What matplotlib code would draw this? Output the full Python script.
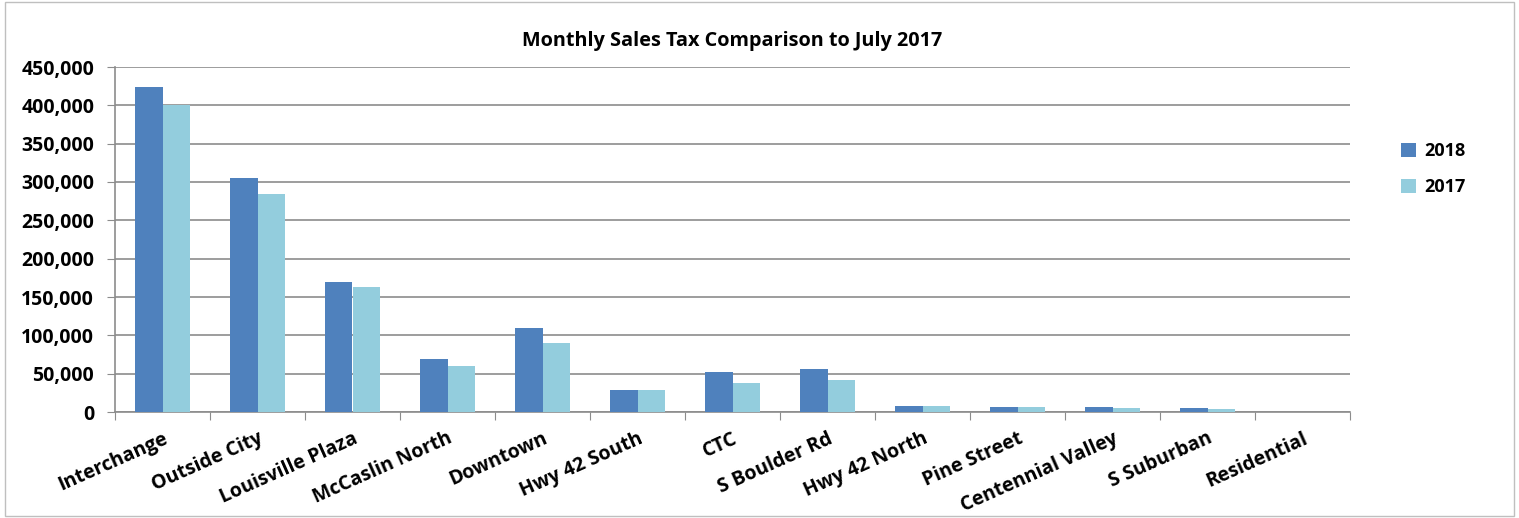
import numpy as np
from matplotlib import pyplot as plt
from matplotlib.ticker import FuncFormatter, FixedLocator

plt.rcParams['font.family'] = ['Open Sans', 'DejaVu Sans']

areas = ["Interchange", "Outside City", "Louisville Plaza", "McCaslin North", "Downtown",
         "Hwy 42 South", "CTC", "S Boulder Rd", "Hwy 42 North", "Pine Street",
         "Centennial Valley", "S Suburban", "Residential"]
tax_2018 = [424000, 305000, 170000, 68500, 110000, 28700, 51800, 56000, 7800, 6500, 6500, 5200, 300]
tax_2017 = [400000, 284500, 163000, 60000, 90000, 28700, 38000, 41800, 8000, 6800, 4800, 3900, 200]

c2018 = "#4f81bd"
c2017 = "#93cddd"

fig = plt.figure(figsize=(15.19, 5.18), dpi=100)
ax = fig.add_axes([115 / 1519, 1 - 412 / 518, (1350 - 115) / 1519, (412 - 67) / 518])

x = np.arange(len(areas))
w = 0.285
ax.bar(x - w / 2, tax_2018, w, color=c2018, label="2018", zorder=3)
ax.bar(x + w / 2, tax_2017, w, color=c2017, label="2017", zorder=3)

ax.set_xlim(-0.5, len(areas) - 0.5)
ax.set_ylim(0, 450000)
ax.set_yticks(np.arange(0, 450001, 50000))
ax.yaxis.set_major_formatter(FuncFormatter(lambda v, p: f"{int(v):,}"))
ax.grid(axis="y", color="#8c8c8c", linewidth=1.2, zorder=0)

ax.xaxis.set_major_locator(FixedLocator(np.arange(-0.5, len(areas), 1)))
ax.xaxis.set_minor_locator(FixedLocator(x))
ax.set_xticklabels([])
ax.set_xticklabels(areas, minor=True, rotation=24, ha="right", rotation_mode="anchor",
                   fontsize=14, fontweight="bold")
ax.tick_params(axis="x", which="major", length=6, color="#8c8c8c")
ax.tick_params(axis="x", which="minor", length=0, pad=12)
ax.tick_params(axis="y", length=6, color="#8c8c8c", labelsize=14, pad=9)
for lbl in ax.get_yticklabels():
    lbl.set_fontweight("bold")

for side in ["top", "right"]:
    ax.spines[side].set_visible(False)
for side in ["left", "bottom"]:
    ax.spines[side].set_color("#8c8c8c")
    ax.spines[side].set_linewidth(1.2)

ax.set_title("Monthly Sales Tax Comparison to July 2017", fontsize=14.3, fontweight="bold", pad=15)

leg = fig.legend(loc="upper left", bbox_to_anchor=(1385 / 1519, 1 - 126 / 518), frameon=False,
                 prop={"size": 13, "weight": "bold"}, handlelength=0.8, handleheight=0.8,
                 labelspacing=1.0, handletextpad=0.5)

border = plt.Rectangle((0.003, 0.003), 0.994, 0.994, transform=fig.transFigure, fill=False,
                       edgecolor="#bfbfbf", linewidth=1)
fig.patches.append(border)

fig.savefig("out.png", dpi=100)
